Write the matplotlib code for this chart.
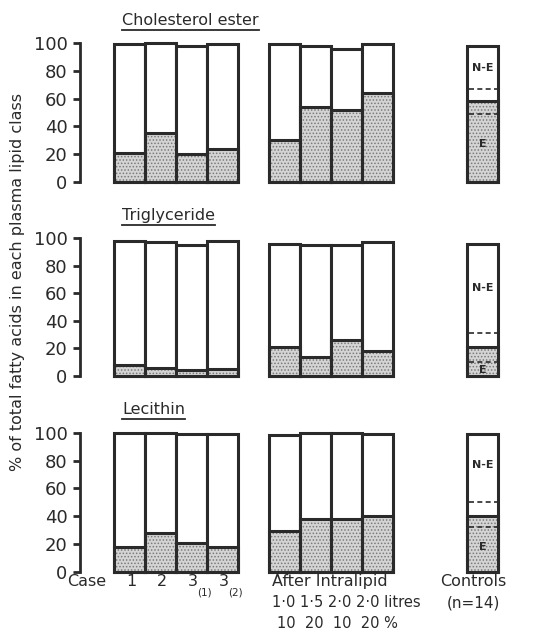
import matplotlib.pyplot as plt
from matplotlib.lines import Line2D

plt.rcParams['font.family'] = ['DejaVu Sans']
plt.rcParams['hatch.linewidth'] = 0.7

# data (% of total fatty acids)
panels = ['Cholesterol ester', 'Triglyceride', 'Lecithin']
case_total = [[99, 100, 98, 99], [98, 97, 95, 98], [100, 100, 99, 99]]
case_e = [[21, 35, 20, 24], [8, 6, 4, 5], [18, 28, 21, 18]]
lipid_total = [[99, 98, 96, 99], [96, 95, 95, 97], [98, 100, 100, 99]]
lipid_e = [[30, 54, 52, 64], [21, 14, 26, 18], [29, 38, 38, 40]]
ctrl_total = [98, 96, 99]
ctrl_e = [58, 21, 40]
ctrl_lo = [49, 10, 32]
ctrl_hi = [67, 31, 50]

case_labels = ['1', '2', '3', '3']
case_subs = ['', '', '(1)', '(2)']
litres_row = '1·0 1·5 2·0 2·0 litres'
percent_row = '10  20  10  20 %'
yticks = [0, 20, 40, 60, 80, 100]

ink = '#2a2a2a'
case_x = [0, 1, 2, 3]
lipid_x = [5, 6, 7, 8]
ctrl_x = 11.39

fig = plt.figure(figsize=(5.54, 6.44), dpi=100)
W, H = 554, 644
# (y of 100, y of 0) in pixels for each panel
panel_px = [(43, 182), (238, 376), (432.7, 571.7)]
ne_y = [82, 64, 77]
e_y = [27, 4, 18]

axes = []
titles = []
for i, name in enumerate(panels):
    top, bot = panel_px[i]
    ax = fig.add_axes([80 / W, 1 - bot / H, 420 / W, (bot - top) / H])
    axes.append(ax)
    ax.set_xlim(-1.1, 12.45)
    ax.set_ylim(0, 100)
    for s in ['top', 'right', 'bottom']:
        ax.spines[s].set_visible(False)
    ax.spines['left'].set_linewidth(2)
    ax.spines['left'].set_color(ink)
    ax.set_xticks([])
    ax.set_yticks(yticks)
    ax.tick_params(axis='y', length=5, width=2, color=ink, labelsize=13,
                   labelcolor=ink, pad=4)

    xs = case_x + lipid_x + [ctrl_x]
    tot = case_total[i] + lipid_total[i] + [ctrl_total[i]]
    ee = case_e[i] + lipid_e[i] + [ctrl_e[i]]
    ax.bar(xs, tot, width=1, align='edge', facecolor='white',
           edgecolor=ink, linewidth=2.2, clip_on=False, zorder=2)
    ax.bar(xs, ee, width=1, align='edge', facecolor='#d4d4d4',
           edgecolor='#7a7a7a', hatch='.....', linewidth=0,
           clip_on=False, zorder=3)
    ax.bar(xs, ee, width=1, align='edge', fill=False,
           edgecolor=ink, linewidth=2.2, clip_on=False, zorder=4)

    # control range lines
    for yv in (ctrl_lo[i], ctrl_hi[i]):
        ax.plot([ctrl_x + 0.05, ctrl_x + 0.95], [yv, yv], ls='--',
                color=ink, lw=1.2, dashes=(3, 2), zorder=5)
    ax.text(ctrl_x + 0.5, ne_y[i], 'N-E', ha='center', va='center',
            fontsize=8, color=ink, fontweight='bold', zorder=6)
    ax.text(ctrl_x + 0.5, e_y[i], 'E', ha='center', va='center',
            fontsize=8, color=ink, fontweight='bold', zorder=6)

    t = ax.text(0.26, 116.5, name, ha='left', va='center', fontsize=11.5,
                color=ink, clip_on=False)
    titles.append(t)

# bottom labels
ax = axes[2]
kw = dict(ha='center', va='center', color=ink, clip_on=False)
ax.text(-0.87, -7.4, 'Case', fontsize=11.5, **kw)
for j, lab in enumerate(case_labels):
    ax.text(case_x[j] + 0.55, -7.4, lab, fontsize=11.5, **kw)
    if case_subs[j]:
        ax.text(case_x[j] + 0.9, -15.3, case_subs[j], fontsize=7.5, **kw)
ax.text(6.97, -7.4, 'After Intralipid', fontsize=11.5, **kw)
ax.text(5.1, -22.5, litres_row, fontsize=10.5, ha='left', va='center',
        color=ink, clip_on=False)
ax.text(5.25, -37, percent_row, fontsize=10.5, ha='left', va='center',
        color=ink, clip_on=False)
ax.text(11.6, -7.4, 'Controls', fontsize=11.5, **kw)
ax.text(11.6, -22.5, '(n=14)', fontsize=11, **kw)

fig.text(18 / W, 1 - 282 / H, '% of total fatty acids in each plasma lipid class',
         rotation=90, ha='center', va='center', fontsize=11.5, color=ink)

# underline the panel titles
fig.canvas.draw()
r = fig.canvas.get_renderer()
for t in titles:
    bb = t.get_window_extent(r)
    y = (bb.y0 - 2) / H
    fig.add_artist(Line2D([bb.x0 / W, bb.x1 / W], [y, y], color=ink, lw=1.3))

fig.savefig('out.png', dpi=100)
